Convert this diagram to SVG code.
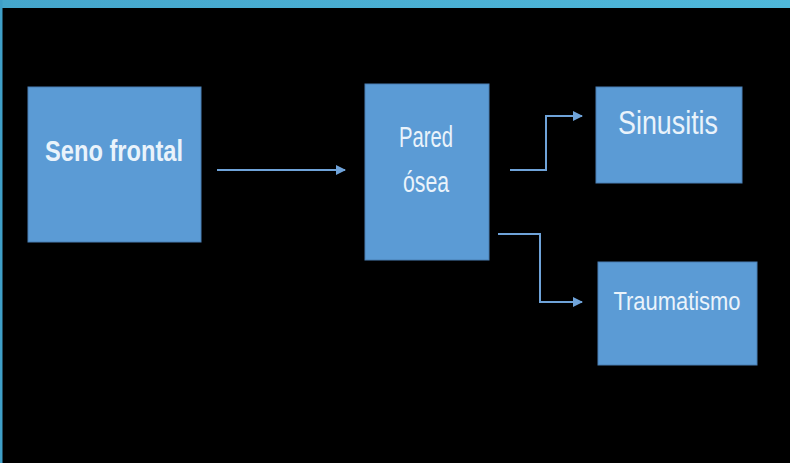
<svg xmlns="http://www.w3.org/2000/svg" width="790" height="463" viewBox="0 0 790 463">
<defs>
<linearGradient id="bar" x1="0" y1="0" x2="1" y2="0">
<stop offset="0" stop-color="#45a6cc"/><stop offset="1" stop-color="#4fb8da"/>
</linearGradient>
<marker id="ah" viewBox="0 0 10 10" refX="9" refY="5" markerWidth="10" markerHeight="10" markerUnits="userSpaceOnUse" orient="auto">
<path d="M0,0 L10,5 L0,10 Z" fill="#6fa3d9"/>
</marker>
<style>
.box{fill:#5b9bd5;stroke:#4a7fb3;stroke-width:1}
.t{fill:#eaf3fb;font-family:"Liberation Sans",Arial,sans-serif;text-anchor:middle}
.c{fill:none;stroke:#6fa3d9;stroke-width:2}
</style>
</defs>
<rect x="0" y="0" width="790" height="463" fill="#000"/>
<rect x="0" y="0" width="790" height="8" fill="url(#bar)"/>
<rect x="0" y="0" width="2.5" height="463" fill="#3f9fc8"/>
<g id="seno-frontal">
<rect class="box" x="28" y="87" width="173" height="155"/>
<text class="t" x="114" y="161" font-size="30" font-weight="bold" textLength="138" lengthAdjust="spacingAndGlyphs">Seno frontal</text>
</g>
<g id="pared-osea">
<rect class="box" x="365" y="84" width="124" height="176"/>
<text class="t" x="426" y="147" font-size="29" textLength="54" lengthAdjust="spacingAndGlyphs">Pared</text>
<text class="t" x="426" y="192" font-size="29" textLength="46" lengthAdjust="spacingAndGlyphs">ósea</text>
</g>
<g id="sinusitis">
<rect class="box" x="596" y="87" width="146" height="96"/>
<text class="t" x="668" y="134" font-size="33" textLength="100" lengthAdjust="spacingAndGlyphs">Sinusitis</text>
</g>
<g id="traumatismo">
<rect class="box" x="598" y="262" width="159" height="103"/>
<text class="t" x="677" y="310" font-size="25" textLength="127" lengthAdjust="spacingAndGlyphs">Traumatismo</text>
</g>
<g id="connectors">
<path class="c" d="M217,170 H345" marker-end="url(#ah)"/>
<path class="c" d="M510,170 H546 V116 H582" marker-end="url(#ah)"/>
<path class="c" d="M498,234 H540 V302 H582" marker-end="url(#ah)"/>
</g>
</svg>
